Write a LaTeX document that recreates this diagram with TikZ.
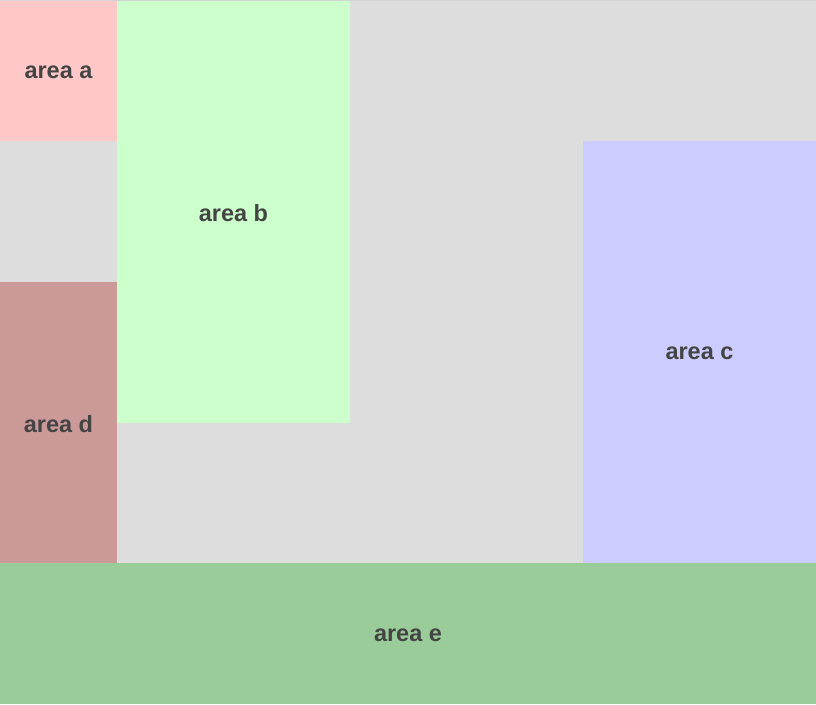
\documentclass[tikz,border=0pt]{standalone}
\usepackage{fontspec}
\setmainfont{Liberation Sans}
\definecolor{bg}{HTML}{DDDDDD}
\definecolor{ca}{HTML}{FFC8C8}
\definecolor{cb}{HTML}{CCFFCC}
\definecolor{cc}{HTML}{CCCCFF}
\definecolor{cd}{HTML}{CC9999}
\definecolor{ce}{HTML}{99CC99}
\definecolor{txt}{HTML}{444444}
\begin{document}
\begin{tikzpicture}[x=1pt,y=-1pt,
  lbl/.style={font=\fontsize{23.5}{27}\selectfont\bfseries, text=txt, inner sep=0pt}]
\useasboundingbox (0,0) rectangle (816,704);
\fill[bg] (0,0) rectangle (816,704);
\fill[black!17] (0,0) rectangle (816,1);
\fill[ca] (0,1) rectangle (117,141);
\fill[cb] (117,1) rectangle (350,423);
\fill[cc] (583,141) rectangle (816,563);
\fill[cd] (0,282) rectangle (117,563);
\fill[ce] (0,563) rectangle (816,704);
\node[lbl] (a) at (58.5,72.5) {area a};
\node[lbl] (b) at (233.5,213.5) {area b};
\node[lbl] (c) at (699.5,353.5) {area c};
\node[lbl] (d) at (58.5,424.5) {area d};
\node[lbl] (e) at (408,635.5) {area e};
\end{tikzpicture}
\end{document}
